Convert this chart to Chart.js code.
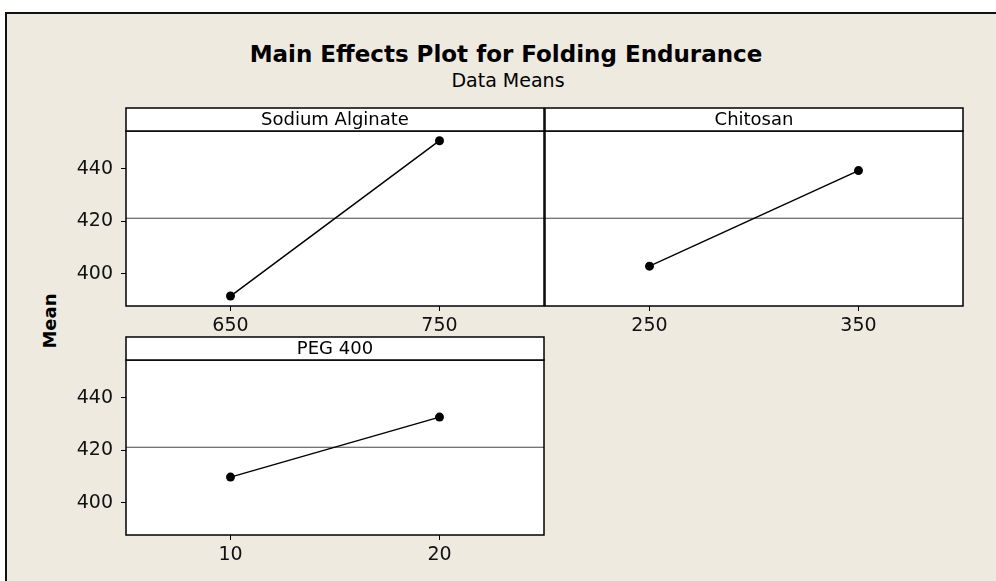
<!DOCTYPE html>
<html lang="en">
<head>
<meta charset="UTF-8">
<title>Main Effects Plot for Folding Endurance</title>
<script src="https://cdn.jsdelivr.net/npm/chart.js"></script>
<style>
  html, body { margin: 0; padding: 0; background: #fff; width: 996px; height: 581px; overflow: hidden;
               font-family: "DejaVu Sans", Verdana, sans-serif; }
  #frame { position: absolute; left: 5px; top: 12px; width: 1000px; height: 600px; background: #EEEAE0;
           border-left: 2px solid #111; border-top: 2px solid #111; }
  .txt { position: absolute; color: #000; white-space: nowrap; line-height: 1; text-align: center; }
  #title { left: 206px; width: 600px; top: 43px; font-size: 23px; font-weight: bold; }
  #subtitle { left: 308px; width: 400px; top: 71px; font-size: 19px; }
  #ylab { left: 10px; width: 80px; top: 312px; height: 18px; font-size: 18px; font-weight: bold;
          transform: rotate(-90deg); }
  canvas { position: absolute; left: 0; top: 0; }
</style>
</head>
<body>
<div id="frame"></div>
<div class="txt" id="title">Main Effects Plot for Folding Endurance</div>
<div class="txt" id="subtitle">Data Means</div>
<div class="txt" id="ylab">Mean</div>
<canvas id="p1" width="996" height="581"></canvas>
<canvas id="p2" width="996" height="581"></canvas>
<canvas id="p3" width="996" height="581"></canvas>

<script>
// valores
const factorNames = ['Sodium Alginate', 'Chitosan', 'PEG 400'];
const sodiumLevels = [650, 750];
const sodiumMeans = [391.5, 450.8];
const chitosanLevels = [250, 350];
const chitosanMeans = [402.9, 439.4];
const pegLevels = [10, 20];
const pegMeans = [409.8, 432.7];
const meanTicks = [400, 420, 440];
const grandMean = 421.2;

Chart.defaults.font.family = '"DejaVu Sans", Verdana, sans-serif';
Chart.defaults.font.size = 19;
Chart.defaults.color = '#111';

// caja del panel y cabecera con el nombre del factor
const panelBox = {
  id: 'panelBox',
  beforeDraw(chart) {
    const { ctx, chartArea: a } = chart;
    ctx.save();
    ctx.fillStyle = '#fff';
    ctx.fillRect(a.left, a.top, a.right - a.left, a.bottom - a.top);
    ctx.restore();
  },
  afterDraw(chart, args, opts) {
    const { ctx, chartArea: a } = chart;
    const h = 23;
    ctx.save();
    ctx.strokeStyle = '#000';
    ctx.lineWidth = 1.5;
    ctx.strokeRect(a.left, a.top, a.right - a.left, a.bottom - a.top);
    ctx.fillStyle = '#fff';
    ctx.fillRect(a.left, a.top - h, a.right - a.left, h);
    ctx.strokeRect(a.left, a.top - h, a.right - a.left, h);
    ctx.fillStyle = '#000';
    ctx.font = '18px "DejaVu Sans", Verdana, sans-serif';
    ctx.textAlign = 'center';
    ctx.textBaseline = 'middle';
    ctx.fillText(opts.label, (a.left + a.right) / 2, a.top - h / 2 + 1);
    ctx.restore();
  }
};

function makePanel(id, label, levels, means, xMin, xMax, area, showY) {
  const yAxisW = 60, xAxisH = 40;
  return new Chart(document.getElementById(id), {
    type: 'line',
    data: {
      datasets: [
        {
          data: levels.map((x, i) => ({ x: x, y: means[i] })),
          borderColor: '#000',
          backgroundColor: '#000',
          borderWidth: 1.5,
          pointRadius: 4.5,
          pointBackgroundColor: '#000',
          pointBorderWidth: 0
        },
        {
          data: [{ x: xMin, y: grandMean }, { x: xMax, y: grandMean }],
          borderColor: '#444',
          borderWidth: 1,
          pointRadius: 0
        }
      ]
    },
    options: {
      responsive: false,
      animation: false,
      layout: {
        padding: {
          left: area.left - yAxisW,
          right: 996 - area.right,
          top: area.top,
          bottom: 581 - area.bottom - xAxisH
        }
      },
      plugins: {
        legend: { display: false },
        tooltip: { enabled: false },
        panelBox: { label: label }
      },
      scales: {
        x: {
          type: 'linear',
          min: xMin,
          max: xMax,
          afterBuildTicks: s => { s.ticks = levels.map(v => ({ value: v })); },
          afterFit: s => { s.height = xAxisH; },
          ticks: { padding: 4, color: '#111' },
          grid: { drawOnChartArea: false, drawTicks: true, tickLength: 5, color: '#000', lineWidth: 1 },
          border: { display: false }
        },
        y: {
          min: 387.7,
          max: 454.5,
          afterBuildTicks: s => { s.ticks = meanTicks.map(v => ({ value: v })); },
          afterFit: s => { s.width = yAxisW; },
          ticks: { display: showY, padding: 8, color: '#111' },
          grid: { display: showY, drawOnChartArea: false, drawTicks: true, tickLength: 5, color: '#000', lineWidth: 1 },
          border: { display: false }
        }
      }
    },
    plugins: [panelBox]
  });
}

makePanel('p1', factorNames[0], sodiumLevels, sodiumMeans, 600, 800,
  { left: 126, right: 544, top: 131, bottom: 306 }, true);
makePanel('p2', factorNames[1], chitosanLevels, chitosanMeans, 200, 400,
  { left: 545, right: 963, top: 131, bottom: 306 }, false);
makePanel('p3', factorNames[2], pegLevels, pegMeans, 5, 25,
  { left: 126, right: 544, top: 360, bottom: 535 }, true);
</script>
</body>
</html>
